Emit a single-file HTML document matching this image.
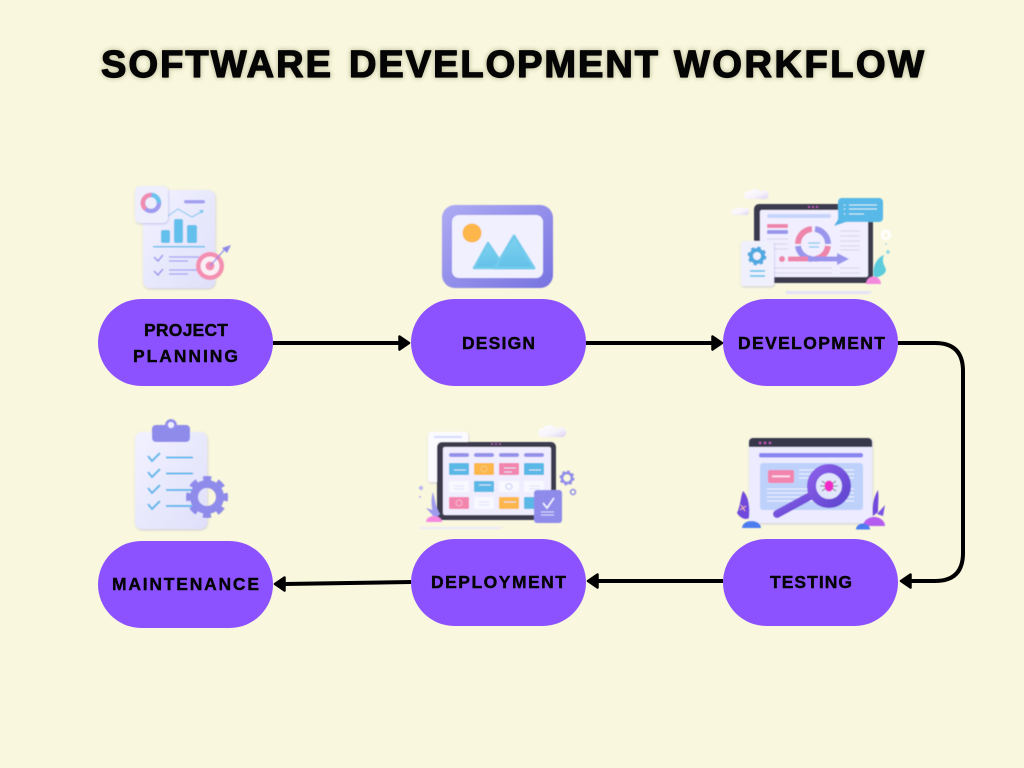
<!DOCTYPE html>
<html><head><meta charset="utf-8"><title>Software Development Workflow</title>
<style>html,body{margin:0;padding:0;background:#f9f7dd}svg{display:block}</style></head>
<body>
<svg xmlns="http://www.w3.org/2000/svg" width="1024" height="768" viewBox="0 0 1024 768">
<defs>
<filter id="b" x="-20%" y="-20%" width="140%" height="140%"><feGaussianBlur stdDeviation="0.4"/></filter>
<filter id="g" x="-5%" y="-40%" width="110%" height="180%"><feGaussianBlur stdDeviation="2.500"/></filter>
<filter id="s" x="-20%" y="-20%" width="140%" height="140%"><feDropShadow dx="0.500" dy="1" stdDeviation="1" flood-color="#8a86d8" flood-opacity=".45"/></filter>
<linearGradient id="paper" x1="0" y1="0" x2="1" y2="1"><stop offset="0" stop-color="#f2f2ff"/><stop offset="1" stop-color="#dfdffb"/></linearGradient>
<linearGradient id="frame" x1="0" y1="0" x2="1" y2="1"><stop offset="0" stop-color="#aeabf4"/><stop offset="1" stop-color="#7773e0"/></linearGradient>
<linearGradient id="glass" x1="0" y1="0" x2="1" y2="1"><stop offset="0" stop-color="#8b5fe8"/><stop offset="1" stop-color="#5f45d0"/></linearGradient>
<linearGradient id="cloud" x1="0" y1="0" x2="1" y2="1"><stop offset="0" stop-color="#ffffff"/><stop offset=".6" stop-color="#f6f2fb"/><stop offset="1" stop-color="#d9d0f0"/></linearGradient>
<linearGradient id="mt" x1="0" y1="0" x2="0" y2="1"><stop offset="0" stop-color="#7fd3f0"/><stop offset="1" stop-color="#62bfe8"/></linearGradient>
</defs>
<rect width="1024" height="768" fill="#f9f7dd"/>

<!-- title -->
<g font-family="Liberation Sans, sans-serif" font-weight="700" font-size="38" lengthAdjust="spacing" fill="#8a8a60" stroke="#8a8a60" stroke-width="2.500" opacity=".5" filter="url(#g)">
<text x="101" y="77" textLength="230">SOFTWARE</text>
<text x="349" y="77" textLength="309">DEVELOPMENT</text>
<text x="674" y="77" textLength="250">WORKFLOW</text>
</g>
<g font-family="Liberation Sans, sans-serif" font-weight="700" font-size="38" lengthAdjust="spacing" fill="#050505" stroke="#050505" stroke-width="1.300" stroke-linejoin="round">
<text x="101" y="77" textLength="230">SOFTWARE</text>
<text x="349" y="77" textLength="309">DEVELOPMENT</text>
<text x="674" y="77" textLength="250">WORKFLOW</text>
</g>

<!-- connectors -->
<g fill="none" stroke="#000" stroke-width="4">
<path d="M273 343H400"/><path d="M586 343H713"/>
<path d="M898 343H935Q963 343 963 371V553Q963 581 935 581H910"/>
<path d="M723 581H597"/><path d="M411 582L284 584"/>
</g>
<g fill="#000" stroke="#000" stroke-width="2.500" stroke-linejoin="round">
<path d="M399.500 336.500L409 343L399.500 349.500Z"/>
<path d="M712.500 336.500L722 343L712.500 349.500Z"/>
<path d="M910.500 574.500L901 581L910.500 587.500Z"/>
<path d="M597.500 574.500L588 581L597.500 587.500Z"/>
<path d="M284.500 577.500L275 584L284.500 590.500Z"/>
</g>

<!-- pills -->
<g fill="#8c52ff">
<rect x="98" y="299" width="175" height="87" rx="43.500"/>
<rect x="411" y="299" width="175" height="87" rx="43.500"/>
<rect x="723" y="299" width="175" height="87" rx="43.500"/>
<rect x="98" y="541" width="175" height="87" rx="43.500"/>
<rect x="411" y="539" width="175" height="87" rx="43.500"/>
<rect x="723" y="539" width="175" height="87" rx="43.500"/>
</g>
<g font-family="Liberation Sans, sans-serif" font-weight="700" font-size="17.500" fill="#050505" stroke="#050505" stroke-width=".4" lengthAdjust="spacing">
<text x="144" y="336" textLength="84">PROJECT</text>
<text x="133" y="362" textLength="105">PLANNING</text>
<text x="462" y="349" textLength="73">DESIGN</text>
<text x="738" y="349" textLength="147">DEVELOPMENT</text>
<text x="112" y="590" textLength="147">MAINTENANCE</text>
<text x="431" y="588" textLength="135">DEPLOYMENT</text>
<text x="770" y="588" textLength="82">TESTING</text>
</g>

<g filter="url(#b)">
<!-- project planning icon -->
<rect x="143" y="190" width="72" height="98" rx="7" fill="url(#paper)" filter="url(#s)"/>
<rect x="184" y="200" width="21" height="3.500" rx="1.700" fill="#a3a0f0"/>
<path d="M168 216L178 209L192 217L203 211" fill="none" stroke="#7cc8ef" stroke-width="1"/>
<path d="M199 210L204 210L202 214Z" fill="#7cc8ef"/>
<rect x="161" y="230" width="9" height="13" rx="2" fill="#64c0ec"/>
<rect x="174" y="219" width="9" height="24" rx="2" fill="#64c0ec"/>
<rect x="187" y="225" width="10" height="18" rx="2" fill="#64c0ec"/>
<rect x="153" y="246" width="52" height="1.500" fill="#64c0ec"/>
<path d="M154 257L158 261L163 255M154 271L158 275L163 269" fill="none" stroke="#9a96ee" stroke-width="1.500"/>
<path d="M169 257H199M169 261H188M169 270H199M169 274H188" stroke="#a3a0f0" stroke-width="1.300"/>
<rect x="135" y="186" width="33" height="37" rx="5" fill="#eeeefd" filter="url(#s)"/>
<circle cx="151" cy="203" r="8" fill="none" stroke="#a09cf0" stroke-width="4.500"/>
<path d="M145.500 209A8 8 0 0 1 151 195" fill="none" stroke="#f08cb0" stroke-width="4.500"/>
<path d="M152 195A8 8 0 0 1 159 203" fill="none" stroke="#6cc4ec" stroke-width="4.500"/>
<circle cx="210" cy="266" r="14" fill="#f48fb1"/>
<circle cx="210" cy="266" r="9.500" fill="#fbeff6"/>
<circle cx="210" cy="266" r="4.500" fill="#f48fb1"/>
<path d="M210 266L226 248" stroke="#8d89ea" stroke-width="1.200"/>
<path d="M222 248L231 245L227 253Z" fill="#8d89ea"/>

<!-- design icon -->
<rect x="442" y="205" width="111" height="83" rx="13" fill="url(#frame)"/>
<rect x="452" y="215" width="91" height="63" rx="7" fill="#f1f0ff" filter="url(#s)"/>
<circle cx="472" cy="233" r="9.500" fill="#fdb64a"/>
<path d="M488 243L505 268H474Z" fill="url(#mt)" stroke="#72cbec" stroke-width="2.500" stroke-linejoin="round"/>
<path d="M514 236L534 268H495Z" fill="url(#mt)" stroke="#72cbec" stroke-width="3" stroke-linejoin="round"/>

<!-- development icon -->
<path d="M744 197a5 5 0 0 1 6-6a7 7 0 0 1 11 1a4 4 0 0 1 7 4a3 3 0 0 1-3 3H748a3 3 0 0 1-4-2Z" fill="url(#cloud)"/>
<path d="M731 212a4 4 0 0 1 5-3a6 6 0 0 1 8 0a3 3 0 0 1 5 3a3 3 0 0 1-3 3H734a3 3 0 0 1-3-3Z" fill="url(#cloud)"/>
<rect x="754" y="204" width="119" height="79" rx="5" fill="#3a3a4e"/>
<rect x="760" y="210" width="108" height="67" rx="2" fill="#f1efff"/>
<g fill="#c55fc0"><circle cx="809" cy="207" r="1"/><circle cx="813" cy="207" r="1"/><circle cx="817" cy="207" r="1"/></g>
<rect x="767" y="214" width="64" height="4" rx="2" fill="#c6d4fa"/>
<rect x="767" y="224" width="21" height="4" rx="1" fill="#ee85ab"/>
<rect x="767" y="230" width="21" height="4" rx="1" fill="#9a96ee"/>
<path d="M767 239H788M767 244H788M767 249H788M840 231H860M840 236H860M840 241H860M840 246H860M840 250H860M774 268H832M774 273H832M840 268H860M840 273H860" stroke="#dcdbec" stroke-width="1.300"/>
<path d="M798 244A15 15 0 0 1 812 229" fill="none" stroke="#ee85ab" stroke-width="6"/>
<path d="M815 229A15 15 0 0 1 828 244" fill="none" stroke="#9a96ee" stroke-width="6"/>
<path d="M828 246A15 15 0 0 1 815 259" fill="none" stroke="#ee85ab" stroke-width="6"/>
<path d="M812 259A15 15 0 0 1 798 246" fill="none" stroke="#9a96ee" stroke-width="6"/>
<path d="M808 243H820M809 247H819" stroke="#7cc8ef" stroke-width="1.300"/>
<circle cx="782" cy="259" r="3" fill="#ee85ab"/>
<rect x="788" y="256.500" width="20" height="5" fill="#ee85ab"/>
<rect x="808" y="256.500" width="30" height="5" fill="#9a96ee"/>
<path d="M837 253L849 259L837 265Z" fill="#9a96ee"/>
<path d="M834 226L840 216L846 222Z" fill="#4fb3e4"/>
<rect x="838" y="198" width="45" height="24" rx="4" fill="#58b8e8"/>
<path d="M849 205H877M849 209H877M849 214H864" stroke="#d8f0fb" stroke-width="1"/>
<path d="M844 205h1M844 209h1M844 214h1" stroke="#fff" stroke-width="1"/>
<rect x="741" y="241" width="33" height="45" rx="3" fill="#f0f0fd" filter="url(#s)"/>
<circle cx="757" cy="256" r="6" fill="none" stroke="#4fa9e0" stroke-width="4"/>
<circle cx="757" cy="256" r="8" fill="none" stroke="#4fa9e0" stroke-width="3" stroke-dasharray="3.300 3"/>
<path d="M750 271H765M750 276H765" stroke="#6cc4ec" stroke-width="1.800"/>
<circle cx="886" cy="235" r="3.500" fill="none" stroke="#ffffff" stroke-width="2.500"/>
<circle cx="886" cy="235" r="5" fill="none" stroke="#ffffff" stroke-width="1.500" stroke-dasharray="2 1.800"/>
<circle cx="888" cy="252" r="1.800" fill="#8ad8e8"/><circle cx="886" cy="244" r=".8" fill="#8ad8e8"/>
<path d="M874 277C872 268 876 258 884 255C881 263 885 265 886 270C885 275 880 276 876 278Z" fill="#5ccbdc"/>
<path d="M866 284A7.500 7.500 0 0 1 881 284Z" fill="#f48ae0"/>
<path d="M786 291H868L873 292L868 294H786Z" fill="#e4e2f8"/>

<!-- testing icon -->
<rect x="749" y="438" width="123" height="85" rx="4" fill="#ecebff" filter="url(#s)"/>
<path d="M749 447V442a4 4 0 0 1 4-4H868a4 4 0 0 1 4 4V447Z" fill="#37374b"/>
<g fill="#c55fc0"><circle cx="760" cy="443" r="1.200"/><circle cx="765" cy="443" r="1.200"/><circle cx="770" cy="443" r="1.200"/></g>
<rect x="759" y="453" width="104" height="4.500" rx="2" fill="#8986f2"/>
<rect x="760" y="463" width="103" height="47" rx="3" fill="#bed1fa"/>
<rect x="768" y="470" width="26" height="13" rx="2" fill="#f285ae"/>
<rect x="772" y="475.500" width="18" height="1.800" fill="#fbe4ee"/>
<path d="M799 470H854M799 474H854M799 478H854M767 489H854M767 493H854M767 497H854M767 501H854" stroke="#f2f2ff" stroke-width="1.100"/>
<path d="M812 495L777 514" stroke="url(#glass)" stroke-width="8" stroke-linecap="round"/>
<circle cx="829" cy="486" r="13" fill="#e2e6fc"/>
<path d="M822 481l14 10M836 481l-14 10M820 486h18" stroke="#606078" stroke-width=".8"/>
<ellipse cx="829" cy="486" rx="4.500" ry="5.500" fill="#f02cc8"/>
<circle cx="829" cy="486" r="17.500" fill="none" stroke="url(#glass)" stroke-width="9"/>
<path d="M743 491C740 498 741 505 737 513C741 519 746 520 749 518C750 508 749 497 743 491Z" fill="#7048dc"/>
<path d="M740 510L746 506M741 505L745 511" stroke="#f8b8a8" stroke-width="1"/>
<path d="M742 528a9.500 7 0 0 1 19 0Z" fill="#4c7df0"/>
<path d="M878 490C873 498 872 508 873 516L878 512C878 505 879 497 878 490Z" fill="#6f48dc"/>
<path d="M877 514L885 505L883 516Z" fill="#7a52e6"/>
<path d="M863 526a11 9 0 0 1 22 0Z" fill="#b45cf0"/>
<path d="M856 529.500a7 6 0 0 1 14 0Z" fill="#4c7df0"/>

<!-- deployment icon -->
<rect x="428" y="432" width="40" height="50" rx="3" fill="#fbfbff" filter="url(#s)"/>
<rect x="434" y="436" width="28" height="2" fill="#d4dcfa"/>
<path d="M538 434a5 5 0 0 1 5-6a9 9 0 0 1 14 1a5 5 0 0 1 9 3a5 5 0 0 1-3 5H543a5 5 0 0 1-5-3Z" fill="url(#cloud)"/>
<rect x="437" y="442" width="119" height="78" rx="5" fill="#3a3a4e"/>
<rect x="443" y="447" width="108" height="68" rx="2" fill="#f0eefe"/>
<g fill="#c55fc0"><circle cx="492" cy="444" r=".9"/><circle cx="496" cy="444" r=".9"/><circle cx="500" cy="444" r=".9"/></g>
<g fill="#9491ea"><rect x="449" y="453" width="20" height="4" rx="2"/><rect x="474" y="453" width="20" height="4" rx="2"/><rect x="499" y="453" width="20" height="4" rx="2"/><rect x="524" y="453" width="20" height="4" rx="2"/></g>
<rect x="449" y="463" width="20" height="12" rx="1" fill="#5ab8e6"/>
<rect x="474" y="463" width="20" height="12" rx="1" fill="#fdb64a"/>
<rect x="499" y="463" width="20" height="12" rx="1" fill="#f285ae"/>
<rect x="524" y="463" width="20" height="12" rx="1" fill="#5ab8e6"/>
<rect x="449" y="481" width="20" height="11" rx="1" fill="#f8f8ff"/>
<rect x="474" y="481" width="20" height="11" rx="1" fill="#5ab8e6"/>
<rect x="499" y="481" width="20" height="11" rx="1" fill="#f8f8ff"/>
<rect x="524" y="481" width="20" height="11" rx="1" fill="#f8f8ff"/>
<rect x="449" y="497" width="20" height="12" rx="1" fill="#f285ae"/>
<rect x="474" y="497" width="20" height="12" rx="1" fill="#f8f8ff"/>
<rect x="499" y="497" width="20" height="12" rx="1" fill="#fdb64a"/>
<rect x="524" y="497" width="20" height="12" rx="1" fill="#5ab8e6"/>
<path d="M454 470H466M504 468H516M504 472H512M529 470H541M479 485H491M504 502H516M454 486H464M454 489H464M529 486H540M529 489H540M479 502H489M479 505H489" stroke="#dfe6fa" stroke-width="1"/>
<circle cx="484" cy="469" r="3" fill="none" stroke="#f3d58a" stroke-width=".8"/>
<circle cx="509" cy="486.500" r="3" fill="none" stroke="#b8c4f2" stroke-width=".8"/>
<circle cx="459" cy="503" r="3" fill="none" stroke="#f9c8da" stroke-width=".8"/>
<rect x="534" y="490" width="28" height="33" rx="3" fill="#8f8bea"/>
<path d="M543 503L547 508L554 498" fill="none" stroke="#f4f4ff" stroke-width="1.600"/>
<path d="M541 512H554M541 515H554" stroke="#dedcfa" stroke-width="1"/>
<circle cx="567" cy="478" r="5" fill="none" stroke="#8f8bea" stroke-width="2.500"/>
<circle cx="567" cy="478" r="6.500" fill="none" stroke="#8f8bea" stroke-width="2" stroke-dasharray="2.500 2.600"/>
<circle cx="573" cy="492" r="2.500" fill="none" stroke="#8f8bea" stroke-width="1.500"/>
<circle cx="421" cy="488" r="2" fill="#b8b4f4"/><circle cx="420" cy="497" r="1" fill="#b8b4f4"/>
<path d="M433 492C430 502 432 512 436 518L440 514C436 508 435 500 433 492Z" fill="#9f9bee"/>
<path d="M426 508C430 512 433 516 436 519L433 510Z" fill="#9f9bee"/>
<path d="M426 522a8 6 0 0 1 16 0Z" fill="#f48ae0"/>
<path d="M420 527H500L504 527.500L500 529H420Z" fill="#ebeafa"/>

<!-- maintenance icon -->
<rect x="135" y="432" width="72" height="97" rx="7" fill="url(#paper)" filter="url(#s)"/>
<rect x="152" y="425" width="38" height="17" rx="4" fill="#8f8bea"/>
<circle cx="171" cy="425" r="4.500" fill="#eeeeff" stroke="#918dec" stroke-width="2.800"/>
<g fill="none" stroke="#5cb8ec" stroke-width="2">
<path d="M148 456L152 461L160 453M148 472L152 477L160 469M148 488L152 493L160 485M148 504L152 509L160 501"/>
<path d="M166 457.500H193M166 473.500H193M166 490H193M166 506H193"/>
</g>
<circle cx="207" cy="497" r="13" fill="none" stroke="#8f8bea" stroke-width="8"/>
<circle cx="207" cy="497" r="18.500" fill="none" stroke="#8f8bea" stroke-width="5" stroke-dasharray="8 6.530" stroke-dashoffset="4"/>
</g>
</svg>
</body></html>
